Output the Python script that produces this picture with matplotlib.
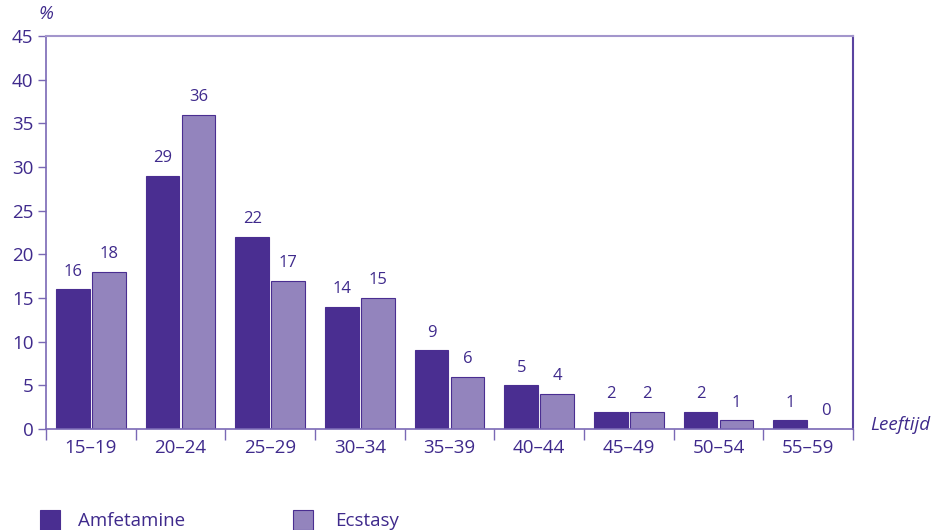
import matplotlib
matplotlib.use("Agg")
import matplotlib.pyplot as plt
import numpy as np
from matplotlib.patches import Rectangle

categories = ["15–19", "20–24", "25–29", "30–34", "35–39", "40–44", "45–49", "50–54", "55–59"]
amfetamine = [16, 29, 22, 14, 9, 5, 2, 2, 1]
ecstasy = [18, 36, 17, 15, 6, 4, 2, 1, 0]
series_names = ["Amfetamine", "Ecstasy"]
yticks = [0, 5, 10, 15, 20, 25, 30, 35, 40, 45]

dark = "#4a2e91"
light = "#9384bd"
txt = "#3f2a8c"
axcol = "#7a68b5"

plt.rcParams['font.family'] = ['Open Sans', 'DejaVu Sans']

fig = plt.figure(figsize=(9.33, 5.30), dpi=100)
ax = fig.add_axes([46/933, 1-429/530, (853-46)/933, (429-36)/530])

x = np.arange(len(categories))
w = 0.375
ax.bar(x - 0.2, amfetamine, w, color=dark, edgecolor=dark, linewidth=0.8)
ax.bar(x + 0.2, ecstasy, w, color=light, edgecolor=dark, linewidth=0.8)

for i in range(len(categories)):
    ax.text(x[i] - 0.2, amfetamine[i] + 1.1, str(amfetamine[i]), ha='center', va='bottom', color=txt, fontsize=12)
    ax.text(x[i] + 0.2, ecstasy[i] + 1.1, str(ecstasy[i]), ha='center', va='bottom', color=txt, fontsize=12)

ax.set_xlim(-0.5, len(categories) - 0.5)
ax.set_ylim(0, 45)
ax.set_yticks(yticks)
ax.set_yticklabels([str(v) for v in yticks], color=txt, fontsize=13.5)
ax.tick_params(axis='y', length=6, color=axcol, width=1, pad=3)

ax.set_xticks(np.arange(len(categories) + 1) - 0.5)
ax.set_xticklabels([])
ax.set_xticks(x, minor=True)
ax.set_xticklabels(categories, minor=True, color=txt, fontsize=13.5)
ax.tick_params(axis='x', which='major', length=8, color=axcol, width=1)
ax.tick_params(axis='x', which='minor', length=0, pad=7)

for s in ['left', 'bottom']:
    ax.spines[s].set_color(axcol)
    ax.spines[s].set_linewidth(1.2)
ax.spines['top'].set_color("#a396cc")
ax.spines['top'].set_linewidth(1.5)
ax.spines['right'].set_color("#5a43a0")
ax.spines['right'].set_linewidth(1.5)

fig.text(38/933, 1-14/530, "%", color=txt, fontsize=13.5, ha='left', va='center', style='italic')
fig.text(930/933, 1-425/530, "Leeftijd", color=txt, fontsize=13.5, ha='right', va='center', style='italic')

# legend
for xs, col, name, tx in [(40, dark, series_names[0], 78), (293, light, series_names[1], 335)]:
    fig.patches.append(Rectangle((xs/933, 0), 20/933, 20/530, transform=fig.transFigure,
                                 facecolor=col, edgecolor=dark, linewidth=0.8))
    fig.text(tx/933, 1-521/530, name, color=txt, fontsize=13.5, ha='left', va='center')

fig.savefig("out.png", dpi=100)
